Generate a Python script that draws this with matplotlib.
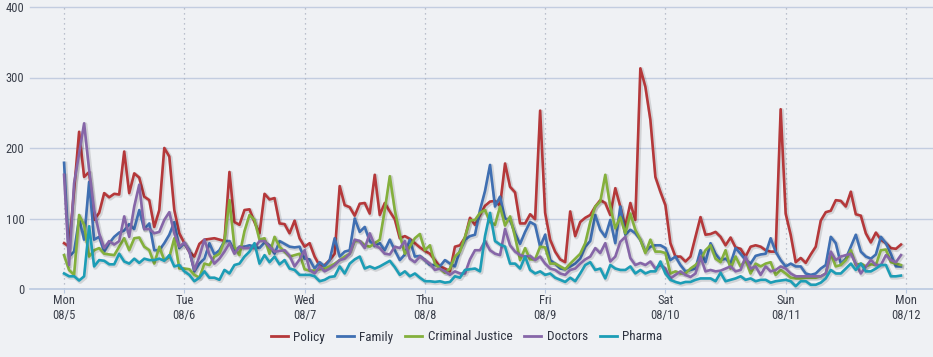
import numpy as np
import matplotlib
matplotlib.use("Agg")
import matplotlib.pyplot as plt
import matplotlib.patheffects as pe
from matplotlib.lines import Line2D

plt.rcParams['font.family'] = ['Roboto Condensed', 'Asap Condensed', 'DejaVu Sans']

# hourly counts, Mon 08/5 00:00 .. Sun 08/11 23:00
policy = [65, 60, 140, 223, 159, 166, 98, 108, 136, 130, 135, 134, 195, 136, 164, 158, 131, 126, 88, 112, 200,
          188, 112, 79, 65, 53, 46, 64, 70, 71, 72, 70, 68, 166, 95, 91, 112, 113, 95, 79, 135, 127,
          129, 93, 92, 79, 97, 72, 60, 65, 46, 33, 34, 41, 50, 146, 119, 116, 104, 121, 122, 107, 162,
          105, 122, 110, 99, 72, 75, 71, 65, 59, 54, 50, 41, 32, 29, 25, 60, 62, 73, 101, 91, 105,
          118, 124, 125, 118, 178, 145, 137, 93, 93, 106, 99, 253, 108, 70, 53, 42, 38, 110, 75, 95, 101, 105,
          117, 126, 122, 105, 143, 117, 88, 122, 98, 313, 287, 240, 159, 138, 119, 65, 46, 46, 39, 46, 74,
          102, 77, 78, 81, 74, 62, 73, 59, 57, 46, 60, 62, 60, 55, 53, 53, 255, 107, 77, 38, 44,
          37, 49, 60, 97, 109, 111, 126, 125, 117, 138, 106, 104, 79, 66, 80, 70, 65, 58, 57, 63]
family = [179, 46, 53, 100, 70, 152, 70, 74, 53, 65, 74, 80, 83, 92, 85, 112, 85, 93, 55, 55, 65,
          77, 95, 58, 65, 55, 25, 36, 43, 65, 49, 55, 68, 68, 53, 60, 60, 62, 60, 58, 66, 62,
          50, 68, 64, 60, 59, 60, 43, 42, 29, 38, 32, 41, 72, 46, 53, 55, 100, 81, 88, 68, 61,
          65, 55, 70, 55, 41, 49, 70, 46, 47, 41, 34, 34, 32, 41, 36, 32, 55, 70, 75, 77, 112,
          139, 176, 117, 131, 100, 98, 79, 64, 81, 95, 91, 60, 77, 41, 36, 29, 28, 32, 36, 43, 60, 68,
          105, 84, 74, 98, 65, 117, 77, 84, 79, 70, 53, 60, 62, 62, 58, 41, 46, 34, 25, 27, 29,
          55, 38, 65, 50, 41, 43, 36, 58, 50, 41, 36, 47, 49, 50, 72, 53, 41, 32, 36, 32, 32,
          22, 20, 22, 29, 34, 74, 65, 36, 43, 60, 77, 53, 46, 43, 49, 74, 65, 50, 32, 32]
criminal = [48, 27, 20, 105, 91, 46, 55, 58, 50, 49, 48, 60, 72, 55, 72, 73, 60, 55, 36, 60, 41,
            45, 72, 29, 29, 28, 20, 16, 36, 34, 46, 50, 68, 126, 60, 48, 82, 105, 98, 70, 72, 50,
            74, 60, 53, 46, 48, 50, 28, 26, 26, 28, 29, 32, 36, 41, 46, 50, 68, 68, 62, 60, 65,
            70, 112, 160, 112, 77, 50, 60, 72, 78, 55, 62, 36, 29, 23, 29, 46, 53, 74, 97, 98, 108,
            112, 95, 91, 117, 90, 103, 74, 41, 58, 42, 42, 60, 59, 36, 36, 32, 28, 36, 43, 50, 65, 95,
            117, 124, 162, 117, 86, 102, 79, 107, 84, 70, 51, 70, 53, 53, 51, 22, 25, 22, 22, 29, 34,
            41, 55, 62, 43, 38, 55, 29, 46, 32, 41, 22, 36, 32, 36, 38, 20, 27, 22, 16, 15, 15,
            16, 16, 16, 18, 22, 50, 32, 34, 41, 55, 34, 36, 32, 35, 34, 55, 56, 38, 36, 34]
doctors = [162, 34, 150, 192, 235, 169, 112, 79, 58, 68, 63, 68, 103, 74, 117, 148, 85, 85, 79, 81, 98,
           109, 79, 60, 66, 53, 27, 46, 70, 49, 36, 43, 53, 65, 50, 60, 58, 58, 58, 68, 68, 60,
           53, 54, 55, 47, 32, 42, 55, 27, 22, 32, 25, 29, 34, 41, 43, 50, 70, 68, 58, 79, 62,
           58, 50, 49, 60, 58, 68, 43, 38, 46, 41, 36, 27, 29, 25, 20, 25, 22, 22, 42, 55, 55,
           68, 55, 50, 48, 85, 62, 53, 48, 46, 47, 41, 46, 36, 29, 27, 22, 20, 27, 29, 36, 42, 46,
           58, 51, 65, 39, 46, 67, 74, 44, 34, 37, 34, 39, 29, 34, 29, 15, 20, 25, 20, 17, 22,
           46, 25, 27, 25, 26, 29, 32, 25, 27, 46, 29, 32, 20, 32, 25, 27, 32, 29, 22, 18, 18,
           18, 18, 18, 18, 22, 53, 41, 46, 48, 50, 36, 22, 32, 41, 34, 34, 48, 41, 38, 48]
pharma = [22, 18, 18, 12, 18, 89, 32, 41, 40, 35, 35, 50, 39, 36, 43, 37, 43, 41, 41, 43, 40,
          48, 32, 34, 25, 20, 11, 16, 25, 16, 16, 13, 27, 22, 34, 36, 46, 53, 65, 36, 48, 38,
          46, 35, 41, 29, 27, 20, 20, 20, 18, 11, 13, 17, 18, 32, 22, 36, 42, 46, 29, 32, 29,
          32, 36, 40, 31, 20, 25, 18, 22, 16, 11, 11, 10, 11, 9, 10, 18, 16, 27, 28, 29, 25,
          75, 108, 68, 63, 60, 36, 36, 29, 46, 27, 22, 25, 20, 22, 16, 13, 10, 16, 11, 22, 34, 38,
          27, 29, 15, 34, 29, 27, 27, 32, 22, 27, 22, 25, 25, 39, 22, 13, 10, 8, 10, 10, 13,
          15, 15, 15, 11, 23, 11, 13, 15, 18, 13, 15, 11, 13, 13, 9, 11, 12, 13, 11, 4, 11,
          11, 6, 6, 9, 15, 27, 22, 22, 29, 36, 27, 36, 25, 25, 29, 34, 34, 18, 18, 19]

names = ['Policy', 'Family', 'Criminal Justice', 'Doctors', 'Pharma']
colors = ['#b5383a', '#3f6fb2', '#84b03c', '#8666a8', '#1c9db6']
day_labels = ['Mon\n08/5', 'Tue\n08/6', 'Wed\n08/7', 'Thu\n08/8',
              'Fri\n08/9', 'Sat\n08/10', 'Sun\n08/11', 'Mon\n08/12']

hours = np.arange(len(policy))
bg = '#eff1f4'

fig = plt.figure(figsize=(9.33, 3.57), dpi=100, facecolor=bg)
ax = fig.add_axes([30 / 933, 1 - 289 / 357, 903 / 933, 282 / 357], facecolor=bg)

shadow = [pe.SimpleLineShadow(offset=(0.8, -0.8), shadow_color='k', alpha=0.12, linewidth=3.2), pe.Normal()]
for vals, name, col in zip([policy, family, criminal, doctors, pharma], names, colors):
    ax.plot(hours, vals, color=col, lw=1.9, label=name, path_effects=shadow,
            solid_joinstyle='round', zorder=3)

ax.set_ylim(0, 400)
ax.set_xlim(-6.8, 173.4)
ax.set_yticks([0, 100, 200, 300, 400])
ax.set_xticks(np.arange(0, 169, 24))
ax.set_xticklabels(day_labels, linespacing=1.2)

for y in [100, 200, 300, 400]:
    ax.axhline(y, color='#c3cde0', lw=1, zorder=1, clip_on=False)
for x in np.arange(0, 169, 24):
    ax.axvline(x, color='#a9b0c0', lw=0.9, ls=(0, (1, 3)), zorder=1)

for s in ['top', 'right', 'left']:
    ax.spines[s].set_visible(False)
ax.spines['bottom'].set_color('#b9c9e0')
ax.spines['bottom'].set_linewidth(1.2)

ax.tick_params(axis='y', length=0, pad=4, labelsize=9, labelcolor='#3a3f4a')
ax.tick_params(axis='x', length=3, color='#b9c9e0', pad=0.5, labelsize=9, labelcolor='#3a3f4a')

handles = [Line2D([0], [0], color=c, lw=2) for c in colors]
fig.legend(handles, names, loc='center', bbox_to_anchor=(0.5, 1 - 337 / 357), ncol=5,
           frameon=False, fontsize=9.5, handlelength=1.3, handletextpad=0.4, columnspacing=0.9,
           labelcolor='#2e3340')

fig.savefig('out.png', dpi=100, facecolor=bg)
